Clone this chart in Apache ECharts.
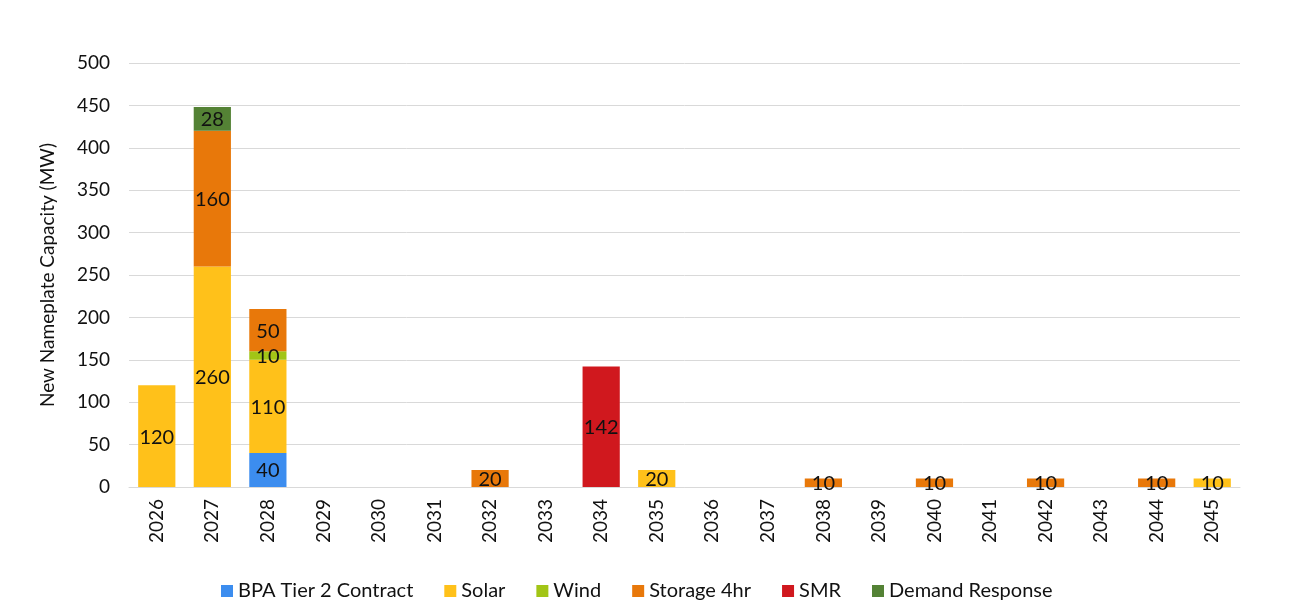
<!DOCTYPE html>
<html>
<head>
<meta charset="utf-8">
<script src="https://cdn.jsdelivr.net/npm/echarts@6/dist/echarts.min.js"></script>
<style>
  html, body { margin: 0; padding: 0; background: #fff; }
  #chart { width: 1296px; height: 606px; }
</style>
</head>
<body>
<div id="chart"></div>
<script>
const years = ['2026', '2027', '2028', '2029', '2030', '2031', '2032', '2033', '2034', '2035',
  '2036', '2037', '2038', '2039', '2040', '2041', '2042', '2043', '2044', '2045'];
const bpaTier2 = [null, null, 40, null, null, null, null, null, null, null, null, null, null, null, null, null, null, null, null, null];
const solar = [120, 260, 110, null, null, null, null, null, null, 20, null, null, null, null, null, null, null, null, null, 10];
const wind = [null, null, 10, null, null, null, null, null, null, null, null, null, null, null, null, null, null, null, null, null];
const storage4hr = [null, 160, 50, null, null, null, 20, null, null, null, null, null, 10, null, 10, null, 10, null, 10, null];
const smr = [null, null, null, null, null, null, null, null, 142, null, null, null, null, null, null, null, null, null, null, null];
const demandResponse = [null, 28, null, null, null, null, null, null, null, null, null, null, null, null, null, null, null, null, null, null];

const font = 'Lato, "Open Sans", sans-serif';

function makeSeries(name, data, color) {
  return {
    name: name,
    type: 'bar',
    stack: 'total',
    data: data,
    barWidth: '67%',
    itemStyle: { color: color },
    label: {
      show: true,
      position: 'inside',
      color: '#111',
      fontSize: 20,
      fontFamily: font,
      offset: [0, 1]
    }
  };
}

const chart = echarts.init(document.getElementById('chart'));
chart.setOption({
  animation: false,
  grid: { left: 129, right: 56, top: 63, bottom: 119 },
  legend: {
    bottom: 0,
    left: 216,
    itemWidth: 12,
    itemHeight: 12,
    itemGap: 31,
    icon: 'rect',
    textStyle: { fontSize: 20, color: '#111', fontFamily: font }
  },
  xAxis: {
    type: 'category',
    data: years,
    axisTick: { show: false },
    axisLine: { lineStyle: { color: '#d9d9d9' } },
    axisLabel: { rotate: 90, fontSize: 19, color: '#111', fontFamily: font, margin: 12 }
  },
  yAxis: {
    type: 'value',
    min: 0,
    max: 500,
    interval: 50,
    name: 'New Nameplate Capacity (MW)',
    nameLocation: 'middle',
    nameGap: 72,
    nameTextStyle: { fontSize: 19, color: '#111', fontFamily: font },
    axisLabel: { fontSize: 19, color: '#111', fontFamily: font, margin: 19 },
    splitLine: { lineStyle: { color: '#d9d9d9' } }
  },
  series: [
    makeSeries('BPA Tier 2 Contract', bpaTier2, '#3C8DEF'),
    makeSeries('Solar', solar, '#FFC11A'),
    makeSeries('Wind', wind, '#A2C516'),
    makeSeries('Storage 4hr', storage4hr, '#E8780A'),
    makeSeries('SMR', smr, '#D0181E'),
    makeSeries('Demand Response', demandResponse, '#548235')
  ]
});
</script>
</body>
</html>
